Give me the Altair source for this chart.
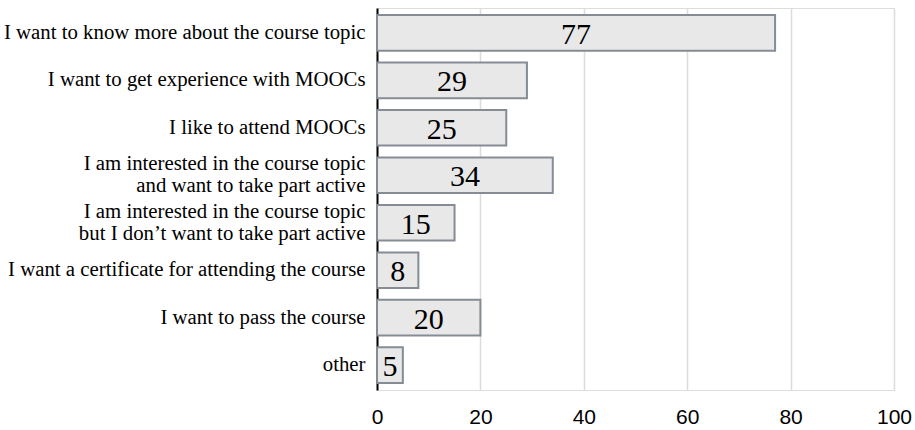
import altair as alt
import pandas as pd

# Reasons given for enrolling in the MOOC (answer counts)
reasons = [
    "I want to know more about the course topic",
    "I want to get experience with MOOCs",
    "I like to attend MOOCs",
    "I am interested in the course topic|and want to take part active",
    "I am interested in the course topic|but I don\u2019t want to take part active",
    "I want a certificate for attending the course",
    "I want to pass the course",
    "other",
]
counts = [77, 29, 25, 34, 15, 8, 20, 5]
x_ticks = [0, 20, 40, 60, 80, 100]

df = pd.DataFrame({"reason": reasons, "count": counts})

y_enc = alt.Y(
    "reason:N",
    sort=reasons,
    scale=alt.Scale(paddingInner=0.25, paddingOuter=0.15),
    axis=alt.Axis(
        title=None,
        labelExpr="split(datum.label, '|')",
        labelFont="Liberation Serif",
        labelFontSize=20.8,
        labelLineHeight=22,
        labelColor="#000000",
        labelPadding=12,
        labelLimit=400,
        # two-line labels are lifted so the pair is centred on its bar
        labelOffset={
            "condition": {"test": "indexof(datum.value, '|') >= 0", "value": -11},
            "value": 0,
        },
        ticks=False,
        domain=True,
        domainColor="#000000",
        domainWidth=2,
        grid=False,
    ),
)

bars = alt.Chart(df).mark_bar(
    fill="#e8e8e8", stroke="#858c93", strokeWidth=2
).encode(
    x=alt.X(
        "count:Q",
        scale=alt.Scale(domain=[0, 100], nice=False),
        axis=alt.Axis(
            title=None,
            values=x_ticks,
            labelFont="Liberation Sans",
            labelFontSize=21,
            labelColor="#000000",
            labelPadding=16,
            labelFlush=False,
            ticks=False,
            domain=False,
            grid=True,
            gridColor="#dcdcdc",
            gridWidth=1.5,
        ),
    ),
    y=y_enc,
)

labels = alt.Chart(df).transform_calculate(
    mid="datum.count / 2"
).mark_text(
    font="Liberation Serif", fontSize=30, color="#000000", baseline="middle", dy=2
).encode(
    x=alt.X("mid:Q"),
    y=alt.Y("reason:N", sort=reasons),
    text=alt.Text("count:Q"),
)

chart = alt.layer(bars, labels).properties(
    width=517,
    height=382,
    autosize=alt.AutoSizeParams(type="none"),
    padding={"left": 377, "top": 8, "right": 21, "bottom": 40},
).configure_view(stroke=None).configure(background="#ffffff")

chart.save("out.html", embed_options={"renderer": "svg", "actions": False})
